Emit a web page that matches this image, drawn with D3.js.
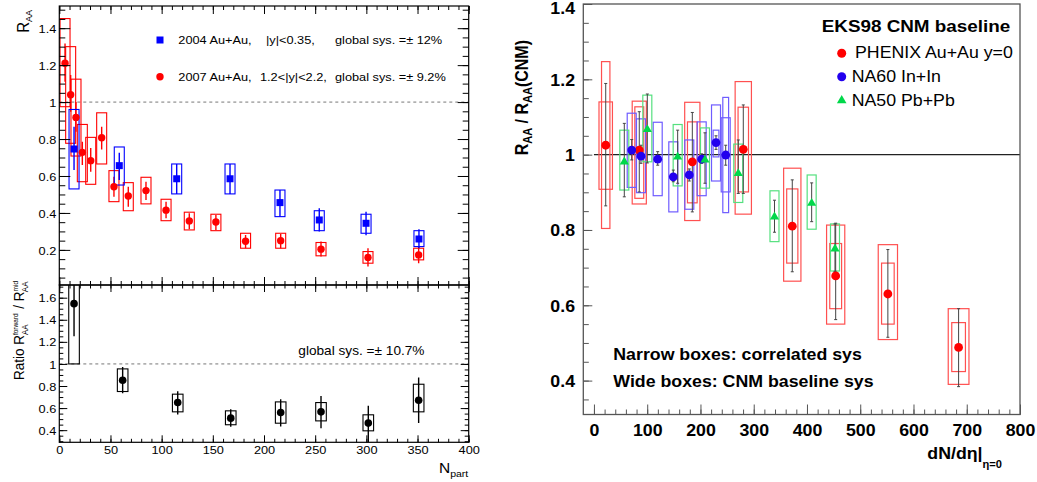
<!DOCTYPE html>
<html><head><meta charset="utf-8">
<script src="https://cdn.jsdelivr.net/npm/d3@7"></script>
<style>
body{margin:0;background:#fff}
svg{display:block}
text{font-family:"Liberation Sans",Arial,Helvetica,sans-serif}
</style>
</head><body>
<svg id="c" width="1037" height="482"></svg>
<script>
// ---------------- DATA ----------------
// Left top panel: R_AA vs Npart
const npartMid   = [14.4, 58.6, 114.7, 166.8, 215.6, 254.0, 299.7, 351.4];
const raaMid     = [0.746, 0.656, 0.585, 0.585, 0.456, 0.362, 0.344, 0.259];
const raaMidStatLo = [0.632, 0.578, 0.503, 0.503, 0.380, 0.299, 0.279, 0.209];
const raaMidStatHi = [0.866, 0.726, 0.665, 0.665, 0.524, 0.425, 0.407, 0.312];
const raaMidSysLo  = [0.530, 0.551, 0.503, 0.503, 0.380, 0.304, 0.290, 0.218];
const raaMidSysHi  = [0.960, 0.757, 0.665, 0.665, 0.524, 0.412, 0.393, 0.304];

const npartFwd   = [5.6, 11.1, 16.3, 22.5, 30.7, 41.4, 53.4, 67.4, 84.7, 104.3, 127.0, 153.0, 182.0, 216.3, 255.7, 301.6, 351.1];
const raaFwd     = [1.21, 1.04, 0.917, 0.728, 0.683, 0.807, 0.542, 0.492, 0.521, 0.415, 0.357, 0.351, 0.247, 0.250, 0.204, 0.159, 0.173];
const raaFwdStatLo = [1.110, 0.948, 0.840, 0.659, 0.623, 0.744, 0.488, 0.434, 0.470, 0.371, 0.312, 0.308, 0.209, 0.209, 0.164, 0.110, 0.128];
const raaFwdStatHi = [1.317, 1.146, 1.000, 0.785, 0.751, 0.866, 0.596, 0.542, 0.569, 0.461, 0.398, 0.389, 0.281, 0.286, 0.245, 0.209, 0.218];
const raaFwdSysLo  = [0.975, 0.777, 0.708, 0.569, 0.555, 0.665, 0.461, 0.412, 0.449, 0.358, 0.308, 0.304, 0.209, 0.209, 0.168, 0.128, 0.146];
const raaFwdSysHi  = [1.452, 1.300, 1.124, 0.879, 0.809, 0.942, 0.629, 0.564, 0.593, 0.474, 0.404, 0.393, 0.290, 0.290, 0.240, 0.191, 0.209];

// Left bottom panel: ratio forward / mid
const npartRatio = [14.4, 61.9, 115.7, 167.5, 216.3, 255.7, 301.9, 351.1];
const ratio      = [1.546, 0.852, 0.651, 0.509, 0.560, 0.566, 0.464, 0.671];
const ratioStatLo = [1.250, 0.734, 0.542, 0.430, 0.433, 0.418, 0.270, 0.464];
const ratioStatHi = [1.840, 0.972, 0.753, 0.590, 0.680, 0.710, 0.620, 0.877];
const ratioSysLo  = [1.000, 0.750, 0.566, 0.449, 0.463, 0.484, 0.394, 0.566];
const ratioSysHi  = [2.090, 0.955, 0.726, 0.575, 0.656, 0.650, 0.539, 0.816];

// Right panel: R_AA / R_AA(CNM) vs dN/deta
const phenixX     = [22.1, 85.1, 184.7, 280.4, 372.4, 453.9, 551.9, 684.7];
const phenixY     = [1.025, 1.012, 0.981, 1.014, 0.810, 0.678, 0.630, 0.488];
const phenixErrLo = [0.864, 0.901, 0.848, 0.897, 0.689, 0.562, 0.515, 0.384];
const phenixErrHi = [1.189, 1.114, 1.112, 1.132, 0.933, 0.818, 0.748, 0.591];
const phenixCorrLo = [0.804, 0.884, 0.872, 0.901, 0.712, 0.591, 0.550, 0.424];
const phenixCorrHi = [1.247, 1.127, 1.087, 1.126, 0.909, 0.764, 0.712, 0.554];
const phenixCnmLo  = [0.908, 0.869, 0.825, 0.842, 0.664, 0.550, 0.509, 0.390];
const phenixCnmHi  = [1.140, 1.142, 1.139, 1.194, 0.964, 0.813, 0.761, 0.591];

const na60X     = [70.9, 88.3, 119.7, 149.0, 179.0, 202.3, 229.2, 247.4];
const na60Y     = [1.012, 0.996, 0.988, 0.941, 0.946, 0.988, 1.032, 0.999];
const na60ErrLo = [0.986, 0.977, 0.972, 0.928, 0.930, 0.977, 1.014, 0.972];
const na60ErrHi = [1.040, 1.025, 1.008, 0.959, 0.962, 1.002, 1.050, 1.025];
const na60CorrLo = [null, null, null, null, null, null, 0.994, 0.846];
const na60CorrHi = [null, null, null, null, null, null, 1.065, 1.152];
const na60CnmLo  = [0.913, 0.899, 0.891, 0.848, 0.855, 0.891, 0.930, 0.901];
const na60CnmHi  = [1.110, 1.095, 1.086, 1.034, 1.039, 1.087, 1.132, 1.098];

const na50X     = [57.0, 100.2, 157.2, 208.5, 271.0, 339.0, 408.8, 452.6];
const na50Y     = [0.981, 1.067, 0.994, 0.986, 0.950, 0.835, 0.871, 0.750];
const na50ErrLo = [0.888, 0.978, 0.924, 0.924, 0.897, 0.794, 0.822, 0.690];
const na50ErrHi = [1.083, 1.161, 1.065, 1.058, 1.039, 0.879, 0.925, 0.816];
const na50BoxLo = [0.906, 0.981, 0.917, 0.911, 0.873, 0.769, 0.802, 0.691];
const na50BoxHi = [1.065, 1.158, 1.080, 1.071, 1.028, 0.904, 0.946, 0.816];

// Ticks
const lxTicks = [0, 50, 100, 150, 200, 250, 300, 350, 400];
const lxLabels = ["0", "50", "100", "150", "200", "250", "300", "350", "400"];
const ltTicks = [0.2, 0.4, 0.6, 0.8, 1.0, 1.2, 1.4];
const ltLabels = ["0.2", "0.4", "0.6", "0.8", "1", "1.2", "1.4"];
const lbTicks = [0.4, 0.6, 0.8, 1.0, 1.2, 1.4, 1.6];
const lbLabels = ["0.4", "0.6", "0.8", "1", "1.2", "1.4", "1.6"];
const rxTicks = [0, 100, 200, 300, 400, 500, 600, 700, 800];
const rxLabels = ["0", "100", "200", "300", "400", "500", "600", "700", "800"];
const ryTicks = [0.4, 0.6, 0.8, 1.0, 1.2, 1.4];
const ryLabels = ["0.4", "0.6", "0.8", "1", "1.2", "1.4"];

// ---------------- DRAW ----------------
const svg = d3.select("#c");
const SX = 1.11;
const FONT = '"Liberation Sans",Arial,Helvetica,sans-serif';

function stretch(sel) {
  sel.each(function () {
    const t = d3.select(this);
    const x = +t.attr("x") || 0;
    t.attr("transform", `translate(${x * (1 - SX)},0) scale(${SX},1)`);
  });
}
function label(g, x, y, parts, o) {
  const t = g.append("text")
    .attr("transform", `translate(${x},${y}) scale(${SX},1)` + (o.rot ? " rotate(-90)" : ""))
    .attr("text-anchor", o.anchor || "start")
    .attr("font-weight", o.bold ? "bold" : "normal")
    .attr("fill", o.fill || "#000");
  parts.forEach(p => {
    const s = t.append("tspan").attr("font-size", p.size).text(p.t);
    if (p.dy) s.attr("dy", p.dy);
    if (p.dx) s.attr("dx", p.dx);
  });
  return t;
}
function minors(lo, hi, step) {
  const out = [];
  for (let v = Math.ceil(lo / step - 1e-9) * step; v <= hi + 1e-9; v += step) out.push(+v.toFixed(4));
  return out;
}

// ===== Left panel scales =====
const xL = d3.scaleLinear().domain([0, 400]).range([59.3, 468.7]);
const yT = d3.scaleLinear().domain([0.01, 1.52]).range([285, 6]);
const yB = d3.scaleLinear().domain([0.29, 1.715]).range([442.3, 285]);

const defs = svg.append("defs");
defs.append("clipPath").attr("id", "clipT").append("rect")
  .attr("x", xL.range()[0]).attr("y", yT.range()[1]).attr("width", xL.range()[1] - xL.range()[0]).attr("height", yT.range()[0] - yT.range()[1]);
defs.append("clipPath").attr("id", "clipB").append("rect")
  .attr("x", xL.range()[0]).attr("y", yB.range()[1]).attr("width", xL.range()[1] - xL.range()[0]).attr("height", yB.range()[0] - yB.range()[1]);

// ---- Top-left plot content
const gT = svg.append("g").attr("clip-path", "url(#clipT)");
gT.append("line").attr("x1", xL(0)).attr("x2", xL(400)).attr("y1", yT(1)).attr("y2", yT(1))
  .attr("stroke", "#777").attr("stroke-width", 1).attr("stroke-dasharray", "3,3");

function leftSeries(g, xs, vals, sLo, sHi, stLo, stHi, x, y, color, halfW) {
  xs.forEach((xv, i) => {
    g.append("rect").attr("x", x(xv) - halfW).attr("y", y(sHi[i]))
      .attr("width", 2 * halfW).attr("height", y(sLo[i]) - y(sHi[i]))
      .attr("fill", "none").attr("stroke", color).attr("stroke-width", 1.1);
    g.append("line").attr("x1", x(xv)).attr("x2", x(xv)).attr("y1", y(stLo[i])).attr("y2", y(stHi[i]))
      .attr("stroke", color).attr("stroke-width", 1.4);
  });
}
leftSeries(gT, npartFwd, raaFwd, raaFwdSysLo, raaFwdSysHi, raaFwdStatLo, raaFwdStatHi, xL, yT, "#ff0000", 5);
leftSeries(gT, npartMid, raaMid, raaMidSysLo, raaMidSysHi, raaMidStatLo, raaMidStatHi, xL, yT, "#0000ff", 5);
gT.selectAll(".fwd").data(npartFwd).enter().append("circle")
  .attr("cx", d => xL(d)).attr("cy", (d, i) => yT(raaFwd[i])).attr("r", 3.7).attr("fill", "#ff0000");
gT.selectAll(".mid").data(npartMid).enter().append("rect")
  .attr("x", d => xL(d) - 3.5).attr("y", (d, i) => yT(raaMid[i]) - 3.5).attr("width", 7).attr("height", 7).attr("fill", "#0000ff");

// ---- Bottom-left plot content
const gB = svg.append("g").attr("clip-path", "url(#clipB)");
gB.append("line").attr("x1", xL(0)).attr("x2", xL(400)).attr("y1", yB(1)).attr("y2", yB(1))
  .attr("stroke", "#777").attr("stroke-width", 1).attr("stroke-dasharray", "3,3");
leftSeries(gB, npartRatio, ratio, ratioSysLo, ratioSysHi, ratioStatLo, ratioStatHi, xL, yB, "#000", 5.3);
gB.selectAll(".rat").data(npartRatio).enter().append("circle")
  .attr("cx", d => xL(d)).attr("cy", (d, i) => yB(ratio[i])).attr("r", 3.8).attr("fill", "#000");

// ---- Left axes
function styleAxis(g, color) {
  g.select(".domain").remove();
  g.selectAll("line").attr("stroke", color || "#000");
}
function addAxis(gen, tx, ty, vals, size, labels, opts) {
  const a = gen.tickValues(vals).tickSize(size).tickPadding(opts.pad || 3)
    .tickFormat(labels ? (d, i) => labels[i] : () => "");
  const g = svg.append("g").attr("transform", `translate(${tx},${ty})`).call(a);
  styleAxis(g, opts.color);
  g.selectAll("text").attr("font-family", FONT).attr("font-size", opts.fs || 11.5)
    .attr("font-weight", opts.bold ? "bold" : "normal").attr("fill", "#000");
  return g;
}
// top panel
let ax;
ax = addAxis(d3.axisLeft(yT), xL.range()[0], 0, ltTicks, -11, ltLabels, { pad: 3 });
ax.selectAll("text").attr("dy", "0.36em"); stretch(ax.selectAll("text"));
addAxis(d3.axisLeft(yT), xL.range()[0], 0, minors(0.05, 1.5, 0.05), -6, null, {});
addAxis(d3.axisRight(yT), xL.range()[1], 0, ltTicks, -11, null, {});
addAxis(d3.axisRight(yT), xL.range()[1], 0, minors(0.05, 1.5, 0.05), -6, null, {});
addAxis(d3.axisTop(xL), 0, yT.range()[1], lxTicks, -8, null, {});
addAxis(d3.axisTop(xL), 0, yT.range()[1], minors(0, 400, 10), -4, null, {});
addAxis(d3.axisBottom(xL), 0, yT.range()[0], lxTicks, -8, null, {});
addAxis(d3.axisBottom(xL), 0, yT.range()[0], minors(0, 400, 10), -4, null, {});
// bottom panel
ax = addAxis(d3.axisLeft(yB), xL.range()[0], 0, lbTicks, -8, lbLabels, { pad: 3 });
ax.selectAll("text").attr("dy", "0.36em"); stretch(ax.selectAll("text"));
addAxis(d3.axisLeft(yB), xL.range()[0], 0, minors(0.3, 1.7, 0.05), -4, null, {});
addAxis(d3.axisRight(yB), xL.range()[1], 0, lbTicks, -8, null, {});
addAxis(d3.axisRight(yB), xL.range()[1], 0, minors(0.3, 1.7, 0.05), -4, null, {});
ax = addAxis(d3.axisBottom(xL), 0, yB.range()[0], lxTicks, -7, lxLabels, {});
ax.selectAll("text").attr("y", 11.7).attr("dy", 0); stretch(ax.selectAll("text"));
addAxis(d3.axisBottom(xL), 0, yB.range()[0], minors(0, 400, 10), -3.5, null, {});
addAxis(d3.axisTop(xL), 0, yB.range()[1], lxTicks, -7, null, {});
addAxis(d3.axisTop(xL), 0, yB.range()[1], minors(0, 400, 10), -3.5, null, {});

// frames
svg.append("rect").attr("x", xL.range()[0]).attr("y", yT.range()[1]).attr("width", xL.range()[1] - xL.range()[0])
  .attr("height", yT.range()[0] - yT.range()[1]).attr("fill", "none").attr("stroke", "#000").attr("stroke-width", 1.2);
svg.append("rect").attr("x", xL.range()[0]).attr("y", yB.range()[1]).attr("width", xL.range()[1] - xL.range()[0])
  .attr("height", yB.range()[0] - yB.range()[1]).attr("fill", "none").attr("stroke", "#000").attr("stroke-width", 1.2);

// left legend
svg.append("rect").attr("x", 160 - 3.5).attr("y", 40 - 3.5).attr("width", 7).attr("height", 7).attr("fill", "#0000ff");
svg.append("circle").attr("cx", 160).attr("cy", 76.7).attr("r", 3.7).attr("fill", "#ff0000");
label(svg, 178.3, 44.1, [{ t: "2004 Au+Au,", size: 11.5 }], {});
label(svg, 266, 44.1, [{ t: "|y|<0.35,", size: 11.5 }], {});
label(svg, 335, 44.1, [{ t: "global sys. =± 12%", size: 11.5 }], {});
label(svg, 178.3, 80.8, [{ t: "2007 Au+Au,", size: 11.5 }], {});
label(svg, 260, 80.8, [{ t: "1.2<|y|<2.2,", size: 11.5 }], {});
label(svg, 335, 80.8, [{ t: "global sys. =± 9.2%", size: 11.5 }], {});
label(svg, 298.3, 355, [{ t: "global sys. =± 10.7%", size: 12.3 }], {});

// left titles
label(svg, 28.5, 10, [{ t: "R", size: 15 }, { t: "AA", size: 9, dy: 3.5 }], { rot: true, anchor: "end" });
(function () {
  const t = svg.append("text")
    .attr("transform", `translate(24,281) scale(${SX},1) rotate(-90)`)
    .attr("text-anchor", "end");
  t.append("tspan").attr("font-size", 13.5).text("Ratio R");
  t.append("tspan").attr("font-size", 6.5).attr("dy", -5).text("forward");
  const w1 = 6.5 * 3.334;
  t.append("tspan").attr("font-size", 8).attr("dy", 9).attr("dx", -w1).text("AA");
  const w2 = 8 * 1.334;
  t.append("tspan").attr("font-size", 13.5).attr("dy", -4).attr("dx", w1 - w2 + 1).text(" / R");
  t.append("tspan").attr("font-size", 6.5).attr("dy", -5).text("mid");
  t.append("tspan").attr("font-size", 8).attr("dy", 9).attr("dx", -6.5 * 1.723).text("AA");
})();
label(svg, 468.3, 473.3, [{ t: "N", size: 14 }, { t: "part", size: 9.5, dy: 3.5 }], { anchor: "end" });

// ===== Right panel =====
const xR = d3.scaleLinear().domain([-20, 800]).range([583.3, 1020]);
const yR = d3.scaleLinear().domain([0.31, 1.4]).range([414.5, 4]);
defs.append("clipPath").attr("id", "clipR").append("rect")
  .attr("x", xR.range()[0]).attr("y", yR.range()[1]).attr("width", xR.range()[1] - xR.range()[0]).attr("height", yR.range()[0] - yR.range()[1]);
const gR = svg.append("g").attr("clip-path", "url(#clipR)");

gR.append("line").attr("x1", xR(0)).attr("x2", xR(800)).attr("y1", yR(1)).attr("y2", yR(1))
  .attr("stroke", "#222").attr("stroke-width", 1.2);

function boxes(xs, lo, hi, color, halfFn) {
  xs.forEach((xv, i) => {
    if (lo[i] == null) return;
    const h = halfFn(xv);
    gR.append("rect").attr("x", xR(xv) - h).attr("y", yR(hi[i]))
      .attr("width", 2 * h).attr("height", yR(lo[i]) - yR(hi[i]))
      .attr("fill", "none").attr("stroke", color).attr("stroke-width", 1.2);
  });
}
function errs(xs, lo, hi) {
  xs.forEach((xv, i) => {
    const x = xR(xv);
    gR.append("line").attr("x1", x).attr("x2", x).attr("y1", yR(lo[i])).attr("y2", yR(hi[i]))
      .attr("stroke", "#444").attr("stroke-width", 1);
    [lo[i], hi[i]].forEach(v => gR.append("line").attr("x1", x - 1.5).attr("x2", x + 1.5)
      .attr("y1", yR(v)).attr("y2", yR(v)).attr("stroke", "#444").attr("stroke-width", 1));
  });
}
const RED = "#ff0000", REDBOX = "#ff5050";
const BLUE = "#2200ee", BLUEBOX = "#6f5cff";
const GREEN = "#00d84a", GREENBOX = "#55e07f";

boxes(phenixX, phenixCnmLo, phenixCnmHi, REDBOX, xv => 6.6 + xv * 0.0055);
boxes(phenixX, phenixCorrLo, phenixCorrHi, REDBOX, xv => 4.1 + xv * 0.004);
boxes(na60X, na60CnmLo, na60CnmHi, BLUEBOX, () => 4.5);
boxes(na60X, na60CorrLo, na60CorrHi, BLUEBOX, () => 2.9);
boxes(na50X, na50BoxLo, na50BoxHi, GREENBOX, () => 4.5);
errs(phenixX, phenixErrLo, phenixErrHi);
errs(na60X, na60ErrLo, na60ErrHi);
errs(na50X, na50ErrLo, na50ErrHi);

gR.selectAll(".ph").data(phenixX).enter().append("circle")
  .attr("cx", d => xR(d)).attr("cy", (d, i) => yR(phenixY[i])).attr("r", 4.4).attr("fill", RED);
gR.selectAll(".n60").data(na60X).enter().append("circle")
  .attr("cx", d => xR(d)).attr("cy", (d, i) => yR(na60Y[i])).attr("r", 4.4).attr("fill", BLUE);
const tri = d3.symbol(d3.symbolTriangle, 36);
gR.selectAll(".n50").data(na50X).enter().append("path").attr("d", tri)
  .attr("transform", (d, i) => `translate(${xR(d)},${yR(na50Y[i])})`).attr("fill", GREEN);

// right axes
const RC = "#555";
ax = addAxis(d3.axisLeft(yR), xR.range()[0], 0, ryTicks, -9, ryLabels, { pad: 8.3, fs: 16, bold: true, color: RC });
ax.selectAll("text").attr("dy", "0.36em")
  .filter((d, i) => ryLabels[i] === "1.4").attr("dy", "0.62em");
stretch(ax.selectAll("text"));
addAxis(d3.axisLeft(yR), xR.range()[0], 0, minors(0.35, 1.4, 0.05), -5.5, null, { color: RC });
ax = addAxis(d3.axisBottom(xR), 0, yR.range()[0], rxTicks, -10, rxLabels, { fs: 16, bold: true, color: RC });
ax.selectAll("text").attr("y", 21.5).attr("dy", 0); stretch(ax.selectAll("text"));
addAxis(d3.axisBottom(xR), 0, yR.range()[0], minors(0, 800, 20), -5, null, { color: RC });
svg.append("rect").attr("x", xR.range()[0]).attr("y", yR.range()[1]).attr("width", xR.range()[1] - xR.range()[0])
  .attr("height", yR.range()[0] - yR.range()[1]).attr("fill", "none").attr("stroke", RC).attr("stroke-width", 1.3);

// right legend
label(svg, 821.7, 31.7, [{ t: "EKS98 CNM baseline", size: 17 }], { bold: true });
svg.append("circle").attr("cx", 841.7).attr("cy", 53.3).attr("r", 4.5).attr("fill", RED);
svg.append("circle").attr("cx", 841.7).attr("cy", 76.7).attr("r", 4.5).attr("fill", BLUE);
svg.append("path").attr("d", d3.symbol(d3.symbolTriangle, 40)).attr("transform", "translate(841.7,100.5)").attr("fill", GREEN);
label(svg, 855, 58.3, [{ t: "PHENIX Au+Au y=0", size: 16 }], {});
label(svg, 851.7, 81.7, [{ t: "NA60 In+In", size: 16 }], {});
label(svg, 851.7, 106, [{ t: "NA50 Pb+Pb", size: 16 }], {});
label(svg, 613.3, 360, [{ t: "Narrow boxes: correlated sys", size: 16 }], { bold: true });
label(svg, 613.3, 386.7, [{ t: "Wide boxes: CNM baseline sys", size: 16 }], { bold: true });

// right titles
label(svg, 1002, 459, [{ t: "dN/dη|", size: 16 }, { t: "η=0", size: 10, dy: 9 }], { bold: true, anchor: "end" });
label(svg, 528, 40, [{ t: "R", size: 16 }, { t: "AA", size: 11, dy: 4 }, { t: " / R", size: 16, dy: -4 }, { t: "AA", size: 11, dy: 4 }, { t: "(CNM)", size: 16, dy: -4 }], { bold: true, rot: true, anchor: "end" });
</script>
</body></html>
